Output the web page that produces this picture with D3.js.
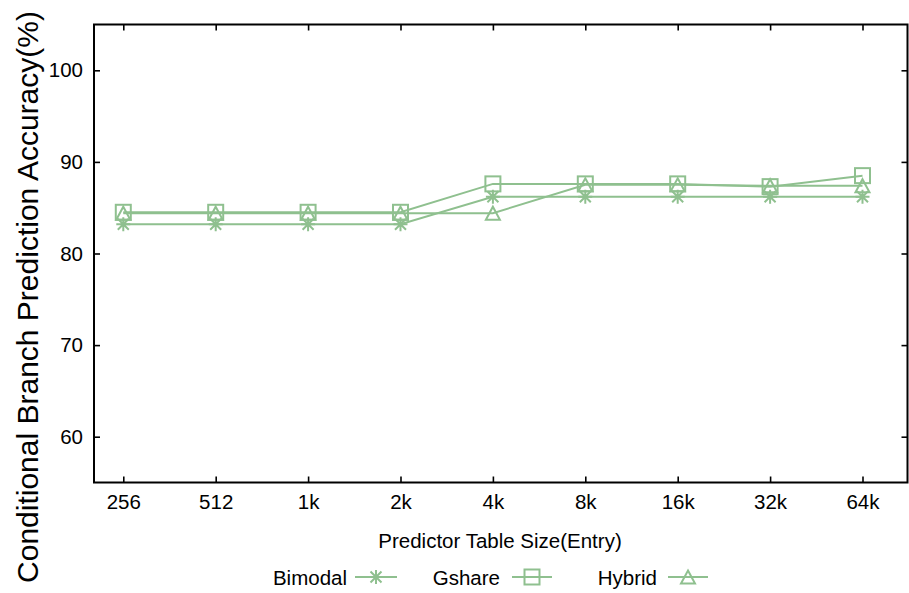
<!DOCTYPE html>
<html>
<head>
<meta charset="utf-8">
<script src="https://cdn.jsdelivr.net/npm/d3@7/dist/d3.min.js"></script>
<style>
  html, body { margin: 0; padding: 0; background: #fff; }
  svg { display: block; }
  text { font-family: Arial, "Liberation Sans", sans-serif; fill: #000; }
</style>
</head>
<body>
<svg id="chart" width="909" height="593"></svg>
<script>
const categories = ["256", "512", "1k", "2k", "4k", "8k", "16k", "32k", "64k"];
const bimodal = [83.2, 83.2, 83.2, 83.2, 86.2, 86.2, 86.2, 86.2, 86.2];
const gshare  = [84.5, 84.5, 84.5, 84.5, 87.6, 87.6, 87.6, 87.3, 88.5];
const hybrid  = [84.4, 84.4, 84.4, 84.4, 84.4, 87.5, 87.5, 87.4, 87.4];
const yTicks = [60, 70, 80, 90, 100];
const seriesNames = ["Bimodal", "Gshare", "Hybrid"];

const series = [
  { name: seriesNames[0], values: bimodal, marker: "star" },
  { name: seriesNames[1], values: gshare, marker: "square" },
  { name: seriesNames[2], values: hybrid, marker: "triangle" }
];

const color = "#8fc08f";
const pL = 94, pR = 907.5, pT = 24.5, pB = 482.5;

const svg = d3.select("#chart");

const x = d3.scaleLinear().domain([-0.317, 8.487]).range([pL, pR]);
const y = d3.scaleLinear().domain([55, 105]).range([pB, pT]);

// Axes
const xAxisB = d3.axisBottom(x).tickValues(d3.range(categories.length))
  .tickFormat(i => categories[i]).tickSizeInner(-6).tickSizeOuter(0).tickPadding(12);
const xAxisT = d3.axisTop(x).tickValues(d3.range(categories.length))
  .tickFormat("").tickSizeInner(-6).tickSizeOuter(0);
const yAxisL = d3.axisLeft(y).tickValues(yTicks)
  .tickSizeInner(-6).tickSizeOuter(0).tickPadding(11);
const yAxisR = d3.axisRight(y).tickValues(yTicks)
  .tickFormat("").tickSizeInner(-6).tickSizeOuter(0);

function styleAxis(g) {
  g.select(".domain").remove();
  g.selectAll(".tick line").attr("stroke", "#000").attr("stroke-width", 1.6);
  g.selectAll(".tick text").attr("font-size", 20.5)
    .attr("font-family", "Arial, 'Liberation Sans', sans-serif").attr("fill", "#000");
}

svg.append("g").attr("transform", `translate(0,${pB})`).call(xAxisB).call(styleAxis);
svg.append("g").attr("transform", `translate(0,${pT})`).call(xAxisT).call(styleAxis);
svg.append("g").attr("transform", `translate(${pL},0)`).call(yAxisL).call(styleAxis);
svg.append("g").attr("transform", `translate(${pR},0)`).call(yAxisR).call(styleAxis);

// Frame
svg.append("rect")
  .attr("x", pL).attr("y", pT)
  .attr("width", pR - pL).attr("height", pB - pT)
  .attr("fill", "none").attr("stroke", "#000").attr("stroke-width", 2);

// Axis titles
svg.append("text")
  .attr("x", 500).attr("y", 548)
  .attr("text-anchor", "middle").attr("font-size", 20.5)
  .text("Predictor Table Size(Entry)");

svg.append("text")
  .attr("transform", "translate(38,297) rotate(-90)")
  .attr("text-anchor", "middle").attr("font-size", 30)
  .text("Conditional Branch Prediction Accuracy(%)");

// Marker drawing
function drawMarker(g, type, cx, cy) {
  const s = 7;
  if (type === "star") {
    const d = 5.5;
    g.append("path")
      .attr("d", `M${cx - s},${cy}L${cx + s},${cy}M${cx},${cy - s}L${cx},${cy + s}` +
                 `M${cx - d},${cy - d}L${cx + d},${cy + d}M${cx - d},${cy + d}L${cx + d},${cy - d}`)
      .attr("stroke", color).attr("stroke-width", 2).attr("fill", "none");
  } else if (type === "square") {
    g.append("rect")
      .attr("x", cx - 7.5).attr("y", cy - 7.5).attr("width", 15).attr("height", 15)
      .attr("fill", "none").attr("stroke", color).attr("stroke-width", 2);
  } else {
    g.append("path")
      .attr("d", `M${cx},${cy - 6.5}L${cx + 7},${cy + 6.5}L${cx - 7},${cy + 6.5}Z`)
      .attr("fill", "none").attr("stroke", color).attr("stroke-width", 2);
  }
}

const line = d3.line().x((d, i) => x(i)).y(d => y(d));

const plot = svg.append("g");
series.forEach(s => {
  plot.append("path")
    .attr("d", line(s.values))
    .attr("fill", "none").attr("stroke", color).attr("stroke-width", 2);
});
series.forEach(s => {
  const g = plot.append("g");
  s.values.forEach((v, i) => drawMarker(g, s.marker, x(i), y(v)));
});

// Legend
const legendItems = [
  { textEnd: 347, x0: 355, x1: 397 },
  { textEnd: 500, x0: 512, x1: 552 },
  { textEnd: 657, x0: 668, x1: 708 }
];
const legY = 577;
series.forEach((s, k) => {
  const L = legendItems[k];
  const g = svg.append("g");
  g.append("text").attr("x", L.textEnd).attr("y", legY + 8)
    .attr("text-anchor", "end").attr("font-size", 20.5).text(s.name);
  g.append("line").attr("x1", L.x0).attr("x2", L.x1).attr("y1", legY).attr("y2", legY)
    .attr("stroke", color).attr("stroke-width", 2);
  drawMarker(g, s.marker, (L.x0 + L.x1) / 2, legY);
});
</script>
</body>
</html>
